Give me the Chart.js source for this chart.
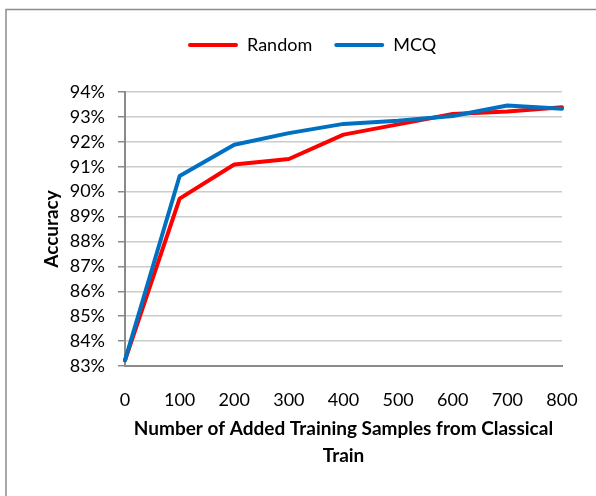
<!DOCTYPE html>
<html>
<head>
<meta charset="utf-8">
<script src="https://cdn.jsdelivr.net/npm/chart.js@4/dist/chart.umd.min.js"></script>
<style>
  html, body { margin: 0; padding: 0; background: #fff; }
  canvas { display: block; }
</style>
</head>
<body>
<canvas id="chart" width="596" height="496"></canvas>
<script>
// Added training samples (x categories)
const samples = ['0', '100', '200', '300', '400', '500', '600', '700', '800'];
// Accuracy (%) for each selection strategy
const randomAcc = [83.23, 89.72, 91.09, 91.31, 92.29, 92.70, 93.12, 93.22, 93.39];
const mcqAcc    = [83.23, 90.63, 91.88, 92.35, 92.72, 92.85, 93.04, 93.46, 93.33];
// Y axis range and step (%)
const yMin = 83, yMax = 94, yStep = 1;

const FONT = 'Lato, "Open Sans", sans-serif';

// White page with the thin gray frame along the top and left edges
const framePlugin = {
  id: 'frame',
  beforeDraw(chart) {
    const ctx = chart.ctx;
    ctx.save();
    ctx.fillStyle = '#ffffff';
    ctx.fillRect(0, 0, chart.width, chart.height);
    ctx.strokeStyle = '#8c8c8c';
    ctx.lineWidth = 1.5;
    ctx.beginPath();
    ctx.moveTo(6, chart.height);
    ctx.lineTo(6, 9.5);
    ctx.lineTo(chart.width, 9.5);
    ctx.stroke();
    ctx.restore();
  }
};

// Place the legend row where it sits above the plot
const legendPlacePlugin = {
  id: 'legendPlace',
  afterLayout(chart) {
    const lg = chart.legend;
    if (!lg || !lg.lineWidths) return;
    const pad = lg.options.labels.padding;
    const startX = 188;
    const lw = lg.lineWidths[0];
    lg.left = startX - pad - 40;
    lg.right = startX + lw + 40;
    lg.width = lg.right - lg.left;
    const h = lg.height;
    lg.top = 14;
    lg.bottom = lg.top + h;
  }
};

function build() {
  new Chart(document.getElementById('chart'), {
    type: 'line',
    data: {
      labels: samples,
      datasets: [
        { label: 'Random', data: randomAcc, borderColor: '#ff0000', backgroundColor: '#ff0000', order: 1 },
        { label: 'MCQ', data: mcqAcc, borderColor: '#0070c0', backgroundColor: '#0070c0', order: 0 }
      ]
    },
    options: {
      responsive: false,
      animation: false,
      devicePixelRatio: 1,
      layout: { padding: { top: 42, left: 10, right: 34, bottom: 0 } },
      elements: {
        line: { borderWidth: 4, tension: 0, borderCapStyle: 'round', borderJoinStyle: 'round' },
        point: { radius: 0, hoverRadius: 0 }
      },
      plugins: {
        tooltip: { enabled: false },
        legend: {
          position: 'top',
          labels: {
            font: { family: FONT, size: 18 },
            color: '#000',
            boxWidth: 50,
            boxHeight: 4,
            padding: 22,
            useBorderRadius: true,
            borderRadius: 2,
            sort: (a, b) => a.datasetIndex - b.datasetIndex,
            generateLabels(chart) {
              return chart.data.datasets.map((ds, i) => ({
                text: ds.label,
                fillStyle: ds.borderColor,
                strokeStyle: ds.borderColor,
                lineWidth: 0,
                borderRadius: 2,
                hidden: false,
                datasetIndex: i
              }));
            }
          }
        }
      },
      scales: {
        x: {
          type: 'category',
          offset: false,
          grid: { display: false, drawTicks: false },
          border: { display: true, color: '#8a8a8a', width: 2 },
          ticks: {
            font: { family: FONT, size: 18 },
            color: '#000',
            padding: 23,
            maxRotation: 0,
            autoSkip: false
          },
          title: {
            display: true,
            text: ['Number of Added Training Samples from Classical', 'Train'],
            font: { family: FONT, size: 19, weight: 'bold', lineHeight: 1.4 },
            color: '#000',
            padding: { top: 0, bottom: 27 }
          },
          afterFit(s) {
            s.height = 130;
            s.paddingLeft = 0;
            s.paddingRight = 0;
          }
        },
        y: {
          min: yMin,
          max: yMax,
          grid: {
            color: '#cccccc',
            lineWidth: 1.5,
            drawTicks: true,
            tickLength: 7,
            tickColor: '#8a8a8a',
            tickWidth: 1.5
          },
          border: { display: true, color: '#8a8a8a', width: 2 },
          ticks: {
            stepSize: yStep,
            font: { family: FONT, size: 18 },
            color: '#000',
            padding: 13,
            callback: v => v + '%'
          },
          title: {
            display: true,
            text: 'Accuracy',
            font: { family: FONT, size: 19, weight: 'bold' },
            color: '#000',
            padding: { top: 30, bottom: 0 }
          },
          afterFit(s) {
            s.width = 115;
            s.paddingTop = 0;
            s.paddingBottom = 0;
          }
        }
      }
    },
    plugins: [framePlugin, legendPlacePlugin]
  });
}

Promise.all([
  document.fonts.load('18px Lato'),
  document.fonts.load('bold 19px Lato')
]).then(build, build);
</script>
</body>
</html>
